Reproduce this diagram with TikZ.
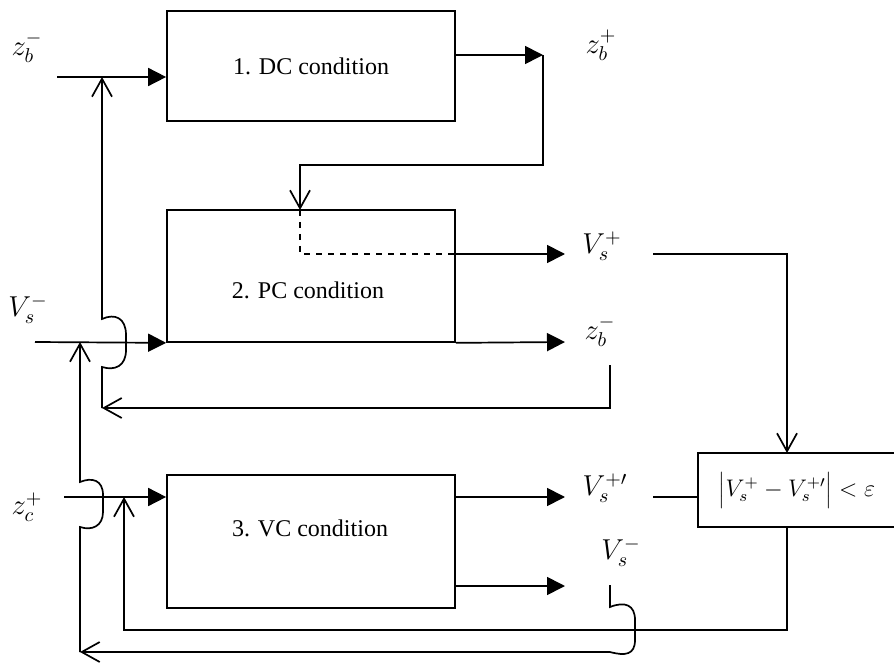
\documentclass[tikz,border=0pt,12pt]{standalone}
\usepackage{fontspec}
\setmainfont{Liberation Serif}
\usetikzlibrary{arrows.meta}

\begin{document}
\begin{tikzpicture}[x = 0.5pt, y = -0.5pt, line width = 0.85pt,
		block/.style = {draw, rectangle, minimum width = 144pt, inner sep = 0pt},
		lbl/.style = {font = \large, inner sep = 0pt},
		tip/.style = {-{Triangle[length = 9pt, width = 9pt]}},
		barb/.style = {-{Straight Barb[length = 9pt, width = 10pt]}}]
			\useasboundingbox (0,0) rectangle (894,663);
			% blocks
			\node[block, minimum height = 55pt] (dc) at (311,66) {1. DC condition};
			\node[block, minimum height = 66pt] (pc) at (311,276) {};
			\node (pct) at (308,290) {2. PC condition};
			\node[block, minimum height = 66.5pt] (vc) at (311,541.5) {};
			\node (vct) at (310,528) {3. VC condition};
			\node[block, minimum width = 103.5pt, minimum height = 37pt] (chk) at (801.5,490) {};
			\node[inner sep = 0pt] (chkt) at (797,490) {$\Bigl|V_s^{+}-V_s^{+\prime}\Bigr|<\varepsilon$};
			% labels
			\node[lbl] (zbi) at (27,47) {$z_b^-$};
			\node[lbl] (zbo) at (601,45) {$z_b^+$};
			\node[lbl] (vsi) at (28,309) {$V_s^-$};
			\node[lbl] (vsp) at (602,246) {$V_s^+$};
			\node[lbl] (zbm) at (600,331) {$z_b^-$};
			\node[lbl] (zci) at (27,507) {$z_c^+$};
			\node[lbl] (vspp) at (605,488) {$V_s^{+\prime}$};
			\node[lbl] (vsm) at (621,552) {$V_s^-$};
			% points
			\coordinate (zbs) at (57,77);
			\coordinate (vss) at (35,342);
			\coordinate (zcs) at (64,497);
			\coordinate (dco) at (543,55);
			\coordinate (dcr) at (543,165);
			\coordinate (pcin) at (300,210);
			\coordinate (pcd) at (300,254);
			\coordinate (vpe) at (565,254);
			\coordinate (zbe) at (565,342);
			\coordinate (vpo) at (653,254);
			\coordinate (chkin) at (787,453);
			\coordinate (zbf) at (610,365);
			\coordinate (zbk) at (102,408);
			\coordinate (zbj) at (102,77);
			\coordinate (vppo) at (653,497);
			\coordinate (vo1) at (565,497);
			\coordinate (vo2) at (565,586);
			\coordinate (fb1) at (124,630);
			\coordinate (fb2) at (124,497);
			\coordinate (vsb) at (610,585);
			\coordinate (fl) at (80,652);
			\coordinate (vsj) at (80,342);
			% inputs
			\draw[tip] (zbs) -- (zbs -| dc.west);
			\draw[tip] (vss) -- (pc.south west);
			\draw[tip] (zcs) -- (zcs -| vc.west);
			% block 1 to block 2
			\draw[tip] (dco -| dc.east) -- (dco);
			\draw[barb] (dco) -- (dcr) -- (dcr -| pcin) -- (pcin);
			\draw[dashed] (pcin) -- (pcd) -- (pcd -| pc.east);
			\draw[tip] (pcd -| pc.east) -- (vpe);
			\draw[tip] (pc.south east) -- (zbe);
			% block 3 outputs
			\draw[tip] (vo1 -| vc.east) -- (vo1);
			\draw[tip] (vo2 -| vc.east) -- (vo2);
			\draw (vppo) -- (vppo -| chk.west);
			\draw[barb] (vpo) -- (vpo -| chkin) -- (chkin);
			% feedback
			\draw[barb] (zbf) -- (zbf |- zbk) -- (zbk);
			\draw[barb] (zbk) -- (102,367) .. controls (115,371) and (126,366) .. (126,350)
				-- (126,335) .. controls (126,318) and (115,313) .. (102,319) -- (zbj);
			\draw[barb] (chkin |- chk.south) -- (chkin |- fb1) -- (fb1) -- (fb2);
			\draw[barb] (vsb) -- (610,607) .. controls (625,601) and (635,605) .. (635,620)
				-- (635,640) .. controls (635,655) and (625,656) .. (610,652) -- (fl);
			\draw[barb] (fl) -- (80,527) .. controls (92,531) and (103,526) .. (103,512)
				-- (103,495) .. controls (103,480) and (92,477) .. (80,482) -- (vsj);
		\end{tikzpicture}
\end{document}
